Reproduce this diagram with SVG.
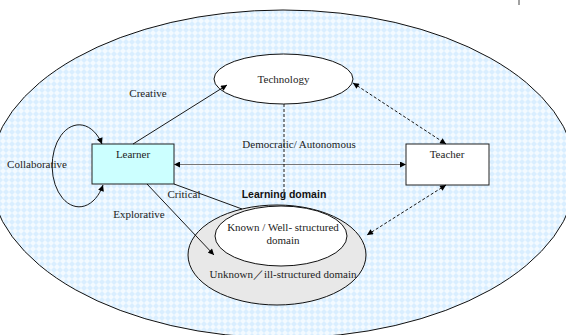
<svg xmlns="http://www.w3.org/2000/svg" width="566" height="335" viewBox="0 0 566 335">
<defs>
<pattern id="hatch" width="6" height="6" patternUnits="userSpaceOnUse">
<rect width="6" height="6" fill="#d9eeff"/>
<path d="M0,3 L3,0 L6,3 L3,6 Z" fill="#f3faff"/>
</pattern>
<marker id="ah" viewBox="0 0 10 10" refX="10" refY="5" markerWidth="7" markerHeight="6" markerUnits="userSpaceOnUse" orient="auto-start-reverse">
<path d="M0,0 L10,5 L0,10 Z" fill="#000"/>
</marker>
<style>
.t{font-family:"Liberation Serif","Times New Roman",serif;font-size:11px;fill:#222;text-anchor:middle}
.b{font-family:"Liberation Sans",Arial,sans-serif;font-size:10.5px;font-weight:bold;fill:#111;text-anchor:middle}
.ln{stroke:#000;stroke-width:0.9;fill:none}
.dash{stroke:#000;stroke-width:0.9;fill:none;stroke-dasharray:3,2}
</style>
</defs>
<rect width="566" height="335" fill="#fff"/>
<line x1="519" y1="0" x2="519" y2="5" stroke="#444" stroke-width="1"/>
<g id="domain-space">
<ellipse cx="283" cy="174" rx="293" ry="164" fill="url(#hatch)" stroke="#111" stroke-width="1"/>
</g>
<g id="unknown">
<ellipse cx="277" cy="255" rx="89" ry="50" fill="#e8e8e8" stroke="#111" stroke-width="1"/>
<text class="t" x="283" y="278">Unknown／ill-structured domain</text>
</g>
<g id="known">
<ellipse cx="281" cy="236" rx="66" ry="30" fill="#fff" stroke="#111" stroke-width="1"/>
<text class="t" x="283" y="231">Known / Well- structured</text>
<text class="t" x="283" y="244">domain</text>
</g>
<g id="technology">
<ellipse cx="283.5" cy="79" rx="69.5" ry="25" fill="#fff" stroke="#111" stroke-width="1"/>
<text class="t" x="283.5" y="83">Technology</text>
</g>
<g id="learner">
<rect x="92" y="144" width="82" height="40" fill="#ccffff" stroke="#222" stroke-width="1"/>
<text class="t" x="133" y="158">Learner</text>
</g>
<g id="teacher">
<rect x="406" y="144" width="83" height="41" fill="#fff" stroke="#222" stroke-width="1"/>
<text class="t" x="447" y="158">Teacher</text>
</g>
<g id="connectors">
<path class="ln" d="M133,144 L227,85" marker-end="url(#ah)"/>
<path d="M174,164.5 L406,164.5" stroke="#777" stroke-width="1.2" fill="none" marker-start="url(#ah)" marker-end="url(#ah)"/>
<path class="dash" d="M353,83 L446,144" marker-start="url(#ah)" marker-end="url(#ah)"/>
<path class="dash" d="M446,185 L367,235" marker-start="url(#ah)" marker-end="url(#ah)"/>
<path class="ln" d="M147,184 L214,255" marker-end="url(#ah)"/>
<path class="ln" d="M174,184 L242,209"/>
<path class="dash" d="M284,104 L284,199"/>
<path class="ln" d="M102,144 A27 41 0 1 0 103,185" marker-start="url(#ah)" marker-end="url(#ah)"/>
<text class="t" x="148" y="97">Creative</text>
<text class="t" x="37" y="168">Collaborative</text>
<text class="t" x="299" y="148">Democratic/ Autonomous</text>
<text class="t" x="184" y="198">Critical</text>
<text class="t" x="139" y="218">Explorative</text>
<text class="b" x="284" y="198">Learning domain</text>
</g>
</svg>
